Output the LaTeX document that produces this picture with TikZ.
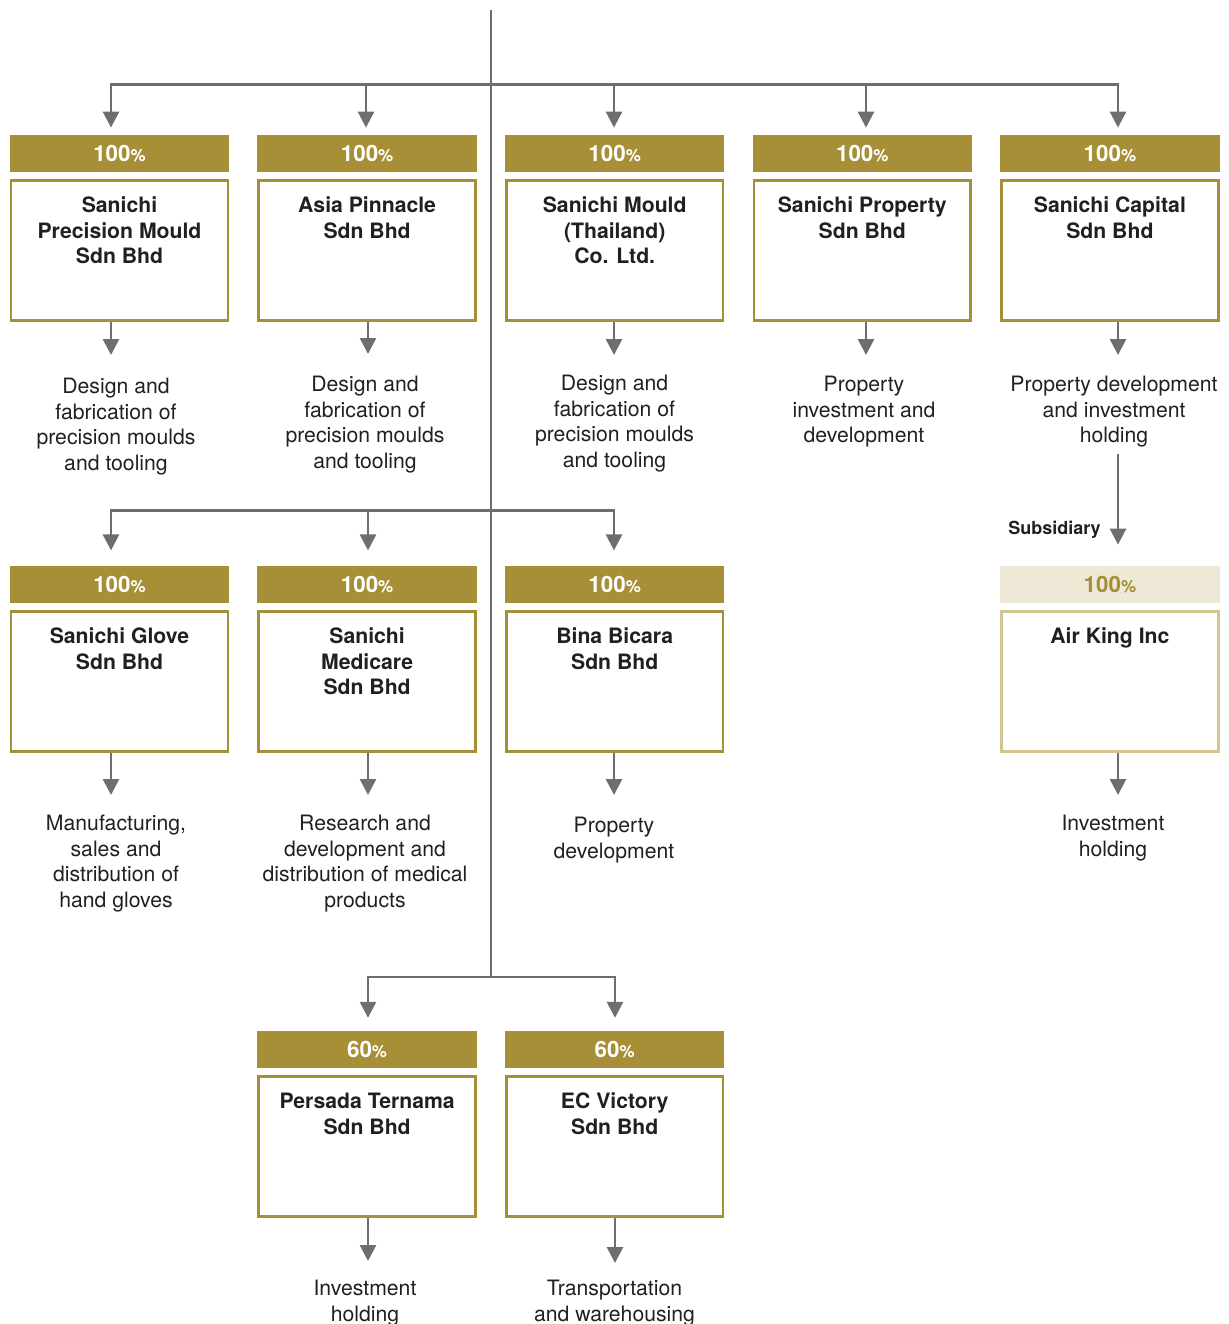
\documentclass[tikz,border=0pt]{standalone}
\usepackage{fontspec}
\setmainfont{TeX Gyre Heros}
\usetikzlibrary{arrows.meta,positioning}

\definecolor{gold}{RGB}{166,143,54}
\definecolor{paleback}{RGB}{238,232,214}
\definecolor{paleline}{RGB}{212,196,143}
\definecolor{linegray}{RGB}{109,110,113}
\definecolor{inkdark}{RGB}{35,31,32}

\newcommand{\pcent}[1]{#1{\fontsize{8.5}{8.5}\selectfont\%}}
\newcommand{\firmtext}[1]{\parbox[c][70.15pt][t]{104pt}{\centering\rule{0pt}{16.4pt}#1}}

\tikzset{
  pct/.style={fill=gold, text=white, minimum width=109.75pt, minimum height=18.5pt,
    inner sep=0pt, font=\fontsize{11.2}{12.75}\selectfont\bfseries},
  pctpale/.style={pct, fill=paleback, text=gold},
  firm/.style={draw=gold, line width=1.35pt, minimum width=108.4pt, minimum height=70.15pt,
    inner sep=0pt, text=inkdark, font=\fontsize{10.6}{12.75}\selectfont\bfseries},
  firmpale/.style={firm, draw=paleline},
  desc/.style={align=center, inner sep=0pt, anchor=north, text=inkdark,
    font=\fontsize{10.6}{12.75}\selectfont},
  bus/.style={draw=linegray, line width=1.35pt},
  arr/.style={bus, -{Triangle[length=8pt,width=8pt]}},
}

\begin{document}
\begin{tikzpicture}[x=0.5pt,y=-0.5pt]
  \useasboundingbox (0,0) rectangle (1229,1324);

  % trunk and junctions
  \coordinate (top) at (491,10);
  \coordinate (j1) at (491,84.5);
  \coordinate (j2) at (491,510.5);
  \coordinate (j3) at (491,977);
  \coordinate (p1) at (111,84.5);
  \coordinate (p2) at (366,84.5);
  \coordinate (p3) at (614,84.5);
  \coordinate (p4) at (866,84.5);
  \coordinate (p5) at (1118,84.5);
  \coordinate (p6) at (111,510.5);
  \coordinate (p7) at (368,510.5);
  \coordinate (p8) at (614,510.5);
  \coordinate (p10) at (368,977);
  \coordinate (p11) at (615,977);
  \draw[bus] (top) -- (j3);

  % first row
  \node[pct] (h1) at (119.5,153.5) {\pcent{100}};
  \node[pct] (h2) at (367.1,153.5) {\pcent{100}};
  \node[pct] (h3) at (614.7,153.5) {\pcent{100}};
  \node[pct] (h4) at (862.3,153.5) {\pcent{100}};
  \node[pct] (h5) at (1109.9,153.5) {\pcent{100}};
  \node[firm, below=3.2pt of h1] (b1) {\firmtext{Sanichi\\Precision Mould\\Sdn Bhd}};
  \node[firm, below=3.2pt of h2] (b2) {\firmtext{Asia Pinnacle\\Sdn Bhd}};
  \node[firm, below=3.2pt of h3] (b3) {\firmtext{Sanichi Mould\\(Thailand)\\Co. Ltd.}};
  \node[firm, below=3.2pt of h4] (b4) {\firmtext{Sanichi Property\\Sdn Bhd}};
  \node[firm, below=3.2pt of h5] (b5) {\firmtext{Sanichi Capital\\Sdn Bhd}};
  \node[desc] (d1) at (116,378) {Design and\\fabrication of\\precision moulds\\and tooling};
  \node[desc] (d2) at (365,376) {Design and\\fabrication of\\precision moulds\\and tooling};
  \node[desc] (d3) at (614.5,375) {Design and\\fabrication of\\precision moulds\\and tooling};
  \node[desc] (d4) at (864,376) {Property\\investment and\\development};
  \node[desc] (d5) at (1114,376) {Property development\\and investment\\holding};

  \draw[arr, shorten >=3.5pt] (j1) -| (p1 |- h1.north);
  \draw[arr, shorten >=3.5pt] (j1) -| (p2 |- h2.north);
  \draw[arr, shorten >=3.5pt] (j1) -| (p3 |- h3.north);
  \draw[arr, shorten >=3.5pt] (j1) -| (p4 |- h4.north);
  \draw[arr, shorten >=3.5pt] (j1) -| (p5 |- h5.north);
  \draw[arr, shorten >=11.5pt] (b1.south -| p1) -- (d1.north -| p1);
  \draw[arr, shorten >=11pt] (b2.south -| p7) -- (d2.north -| p7);
  \draw[arr, shorten >=10pt] (b3.south -| p3) -- (d3.north -| p3);
  \draw[arr, shorten >=10.5pt] (b4.south -| p4) -- (d4.north -| p4);
  \draw[arr, shorten >=10.5pt] (b5.south -| p5) -- (d5.north -| p5);

  % second row
  \node[pct] (h6) at (119.5,584.5) {\pcent{100}};
  \node[pct] (h7) at (367.1,584.5) {\pcent{100}};
  \node[pct] (h8) at (614.7,584.5) {\pcent{100}};
  \node[pctpale] (h9) at (1109.9,584.5) {\pcent{100}};
  \node[firm, below=3.2pt of h6] (b6) {\firmtext{Sanichi Glove\\Sdn Bhd}};
  \node[firm, below=3.2pt of h7] (b7) {\firmtext{Sanichi\\Medicare\\Sdn Bhd}};
  \node[firm, below=3.2pt of h8] (b8) {\firmtext{Bina Bicara\\Sdn Bhd}};
  \node[firmpale, below=3.2pt of h9] (b9) {\firmtext{Air King Inc}};
  \node[desc] (d6) at (116,815) {Manufacturing,\\sales and\\distribution of\\hand gloves};
  \node[desc] (d7) at (365,815) {Research and\\development and\\distribution of medical\\products};
  \node[desc] (d8) at (614,817) {Property\\development};
  \node[desc] (d9) at (1113,815) {Investment\\holding};
  \node[font=\fontsize{9}{11}\selectfont\bfseries, text=inkdark, inner sep=0pt] (sub) at (1054.5,530) {Subsidiary};

  \draw[arr, shorten >=7.6pt] (j2) -| (p6 |- h6.north);
  \draw[arr, shorten >=7.6pt] (j2) -| (p7 |- h7.north);
  \draw[arr, shorten >=7.6pt] (j2) -| (p8 |- h8.north);
  \draw[arr, shorten <=3pt, shorten >=10.5pt] (d5.south -| p5) -- (p5 |- h9.north);
  \draw[arr, shorten >=10pt] (b6.south -| p6) -- (d6.north -| p6);
  \draw[arr, shorten >=10pt] (b7.south -| p7) -- (d7.north -| p7);
  \draw[arr, shorten >=11pt] (b8.south -| p8) -- (d8.north -| p8);
  \draw[arr, shorten >=10pt] (b9.south -| p5) -- (d9.north -| p5);

  % third row
  \node[pct] (h10) at (367.1,1049.5) {\pcent{60}};
  \node[pct] (h11) at (614.7,1049.5) {\pcent{60}};
  \node[firm, below=3.2pt of h10] (b10) {\firmtext{Persada Ternama\\Sdn Bhd}};
  \node[firm, below=3.2pt of h11] (b11) {\firmtext{EC Victory\\Sdn Bhd}};
  \node[desc] (d10) at (365,1280) {Investment\\holding};
  \node[desc] (d11) at (614.5,1280) {Transportation\\and warehousing};

  \draw[arr, shorten >=6.4pt] (j3) -| (p10 |- h10.north);
  \draw[arr, shorten >=6.4pt] (j3) -| (p11 |- h11.north);
  \draw[arr, shorten >=9.5pt] (b10.south -| p10) -- (d10.north -| p10);
  \draw[arr, shorten >=8.5pt] (b11.south -| p11) -- (d11.north -| p11);
\end{tikzpicture}
\end{document}
